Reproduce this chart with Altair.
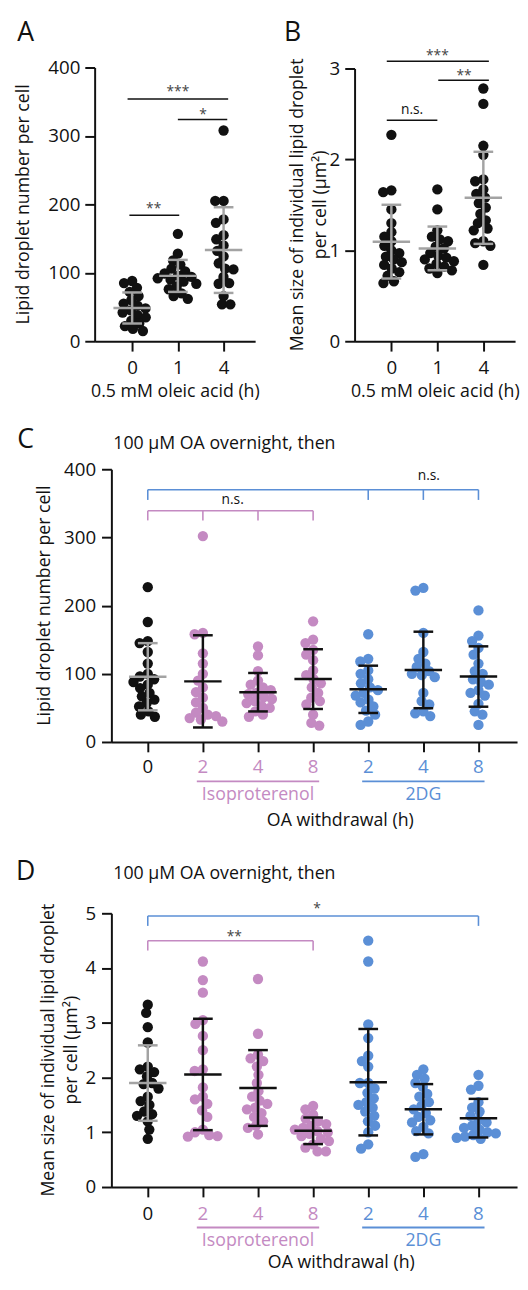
import math
import json
import numpy as np
import pandas as pd
import altair as alt

FONT = "Open Sans"
BLACK = "#111111"
GREY = "#a3a3a3"
PURPLE = "#c48ac2"
BLUE = "#5b8fd6"
SIGC = "#444444"

# ---------------- data ----------------
panel_letters = ["A", "B", "C", "D"]
subtitle = "100 \u03bcM OA overnight, then"
title_number = "Lipid droplet number per cell"
title_size = ["Mean size of individual lipid droplet", "per cell (\u03bcm\u00b2)"]
title_oleic = "0.5 mM oleic acid (h)"
title_withdrawal = "OA withdrawal (h)"

a_x_labels = ["0", "1", "4"]
a_h0 = [88, 85, 78, 72, 66, 60, 55, 52, 48, 45, 42, 38, 35, 30, 26, 22, 18, 15]
a_h1 = [157, 128, 118, 112, 106, 102, 99, 96, 94, 92, 90, 87, 84, 80, 76, 70, 66, 62]
a_h4 = [308, 205, 205, 178, 173, 155, 149, 140, 132, 124, 114, 106, 105, 94, 85, 84, 66, 54, 54]
a_sig_text = ["***", "*", "**"]
a_sig_x0 = [-0.1, 1.0, -0.06]
a_sig_x1 = [2.1, 2.08, 1.03]
a_sig_y = [354, 324, 184]
a_sig_tx = [1.0, 1.55, 0.47]
a_sig_ty = [371, 337, 199]

b_x_labels = ["0", "1", "4"]
b_h0 = [2.27, 1.66, 1.64, 1.45, 1.3, 1.2, 1.15, 1.1, 1.05, 1.0, 0.97, 0.93, 0.9, 0.87, 0.84, 0.8, 0.76, 0.72, 0.66, 0.64]
b_h1 = [1.67, 1.45, 1.22, 1.15, 1.12, 1.1, 1.04, 1.02, 0.97, 0.94, 0.92, 0.9, 0.88, 0.85, 0.82, 0.8, 0.78, 0.75]
b_h4 = [2.78, 2.61, 2.15, 2.05, 1.78, 1.76, 1.67, 1.62, 1.58, 1.52, 1.47, 1.4, 1.33, 1.3, 1.24, 1.22, 1.1, 1.08, 1.05, 0.84]
b_sig_text = ["***", "**", "n.s."]
b_sig_x0 = [-0.1, 1.02, -0.1]
b_sig_x1 = [2.12, 2.12, 1.0]
b_sig_y = [3.08, 2.87, 2.43]
b_sig_tx = [1.0, 1.58, 0.45]
b_sig_ty = [3.19, 2.97, 2.54]

cd_x_labels = ["0", "2", "4", "8", "2", "4", "8"]
cd_groups = ["ctrl", "iso", "iso", "iso", "dg", "dg", "dg"]
group_keys = ["iso", "dg"]
group_names = ["Isoproterenol", "2DG"]

c_0 = [227, 176, 148, 145, 132, 115, 100, 96, 92, 88, 84, 79, 72, 67, 62, 57, 52, 45, 40, 37]
c_iso2 = [302, 160, 158, 130, 115, 100, 90, 80, 73, 65, 58, 50, 43, 40, 38, 35, 33, 30]
c_iso4 = [140, 127, 104, 90, 84, 80, 76, 72, 70, 66, 63, 60, 57, 53, 50, 45, 40, 37]
c_iso8 = [177, 150, 145, 135, 128, 120, 105, 98, 92, 86, 80, 72, 65, 60, 55, 40, 28, 24]
c_dg2 = [158, 122, 118, 105, 100, 92, 86, 80, 76, 72, 68, 62, 58, 52, 46, 40, 30, 25]
c_dg4 = [226, 222, 160, 132, 122, 115, 110, 104, 100, 98, 95, 72, 60, 55, 45, 42, 38]
c_dg8 = [193, 156, 148, 138, 128, 115, 104, 100, 92, 88, 84, 76, 72, 68, 56, 45, 40, 25]
c_brk_grp = ["dg", "iso"]
c_brk_x0 = [0, 0]
c_brk_x1 = [6, 3]
c_brk_y = [370, 339]
c_brk_drop = [355, 325]
c_brk_ticks = [[0, 4, 5, 6], [0, 1, 2, 3]]
c_sig_text = ["n.s.", "n.s."]
c_sig_x = [5.1, 1.54]
c_sig_y = [390, 355]

d_0 = [3.33, 3.18, 2.92, 2.64, 2.2, 2.15, 2.1, 2.02, 1.9, 1.88, 1.8, 1.65, 1.57, 1.5, 1.38, 1.33, 1.3, 1.2, 1.05, 0.88]
d_iso2 = [4.12, 3.78, 3.55, 3.05, 2.98, 2.76, 2.5, 2.15, 2.12, 1.82, 1.65, 1.6, 1.52, 1.4, 1.28, 1.05, 1.0, 0.95, 0.93, 0.92]
d_iso4 = [3.8, 2.8, 2.42, 2.35, 2.3, 2.2, 2.05, 1.9, 1.75, 1.65, 1.58, 1.52, 1.45, 1.42, 1.35, 1.28, 1.2, 1.12, 1.08, 0.96]
d_iso8 = [1.48, 1.42, 1.32, 1.25, 1.2, 1.15, 1.12, 1.08, 1.05, 1.02, 1.0, 0.97, 0.93, 0.88, 0.84, 0.78, 0.72, 0.65, 0.65]
d_dg2 = [4.5, 4.12, 2.97, 2.72, 2.4, 2.3, 2.2, 1.9, 1.9, 1.8, 1.72, 1.62, 1.55, 1.5, 1.45, 1.38, 1.3, 1.2, 1.12, 1.0, 0.78, 0.7]
d_dg4 = [2.15, 2.05, 1.98, 1.9, 1.83, 1.7, 1.65, 1.55, 1.48, 1.42, 1.35, 1.28, 1.22, 1.18, 1.1, 1.02, 0.98, 0.6, 0.55]
d_dg8 = [2.05, 1.85, 1.78, 1.55, 1.45, 1.38, 1.3, 1.22, 1.18, 1.12, 1.08, 1.05, 1.0, 0.98, 0.95, 0.92, 0.9, 0.88]
d_brk_grp = ["dg", "iso"]
d_brk_x0 = [0, 0]
d_brk_x1 = [6, 3]
d_brk_y = [4.95, 4.50]
d_brk_drop = [4.77, 4.32]
d_brk_ticks = [[0, 6], [0, 3]]
d_sig_text = ["*", "**"]
d_sig_x = [3.07, 1.57]
d_sig_y = [5.16, 4.64]

# ---------------- layout constants (pixels, relative to panel A's plot origin) ----------------
VIEW_W, VIEW_H = 429, 1137
DOT = 110
DOT_D = 8.5
color_scale = alt.Scale(domain=["ctrl", "iso", "dg"], range=[BLACK, PURPLE, BLUE])


def swarm(vals, ypx, xpx, d=DOT_D):
    vals = np.asarray(vals, dtype=float)
    order = np.argsort(-vals, kind="stable")
    placed = []
    off = np.zeros(len(vals))
    for i in order:
        y = vals[i] * ypx
        cands = [0.0]
        for px, py in placed:
            dy = y - py
            if abs(dy) < d:
                dx = math.sqrt(d * d - dy * dy)
                cands.extend([px + dx, px - dx])
        cands.sort(key=lambda c: (round(abs(c), 6), c))
        chosen = 0.0
        for c in cands:
            if all((c - px) ** 2 + (y - py) ** 2 >= d * d - 1e-6 for px, py in placed):
                chosen = c
                break
        placed.append((chosen, y))
        off[i] = chosen / xpx
    return off


def text_at(t, px, py, size, align="center", baseline="middle", color=BLACK, angle=0):
    return alt.Chart(pd.DataFrame({"t": [t]})).mark_text(
        font=FONT, fontSize=size, align=align, baseline=baseline, color=color, angle=angle
    ).encode(text="t:N", x=alt.value(px), y=alt.value(py))


class Panel:
    def __init__(self, x0, y0, W, H, xdom, ydom, xaxis, yaxis):
        self.x0, self.y0, self.W, self.H = x0, y0, W, H
        self.xdom, self.ydom = xdom, ydom
        self.xs = alt.Scale(domain=xdom, range=[x0, x0 + W], nice=False, zero=False)
        self.ys = alt.Scale(domain=ydom, range=[y0 + H, y0], nice=False, zero=False)
        self.xaxis, self.yaxis = xaxis, yaxis
        self.layers = []

    def X(self, f):
        return alt.X(f"{f}:Q", scale=self.xs, axis=self.xaxis)

    def Y(self, f):
        return alt.Y(f"{f}:Q", scale=self.ys, axis=self.yaxis)

    def data_layers(self, groups, kinds):
        ypx = self.H / (self.ydom[1] - self.ydom[0])
        xpx = self.W / (self.xdom[1] - self.xdom[0])
        rows = []
        for i, (vals, k) in enumerate(zip(groups, kinds)):
            off = swarm(vals, ypx, xpx)
            for v, o in zip(vals, off):
                rows.append({"idx": i, "v": v, "xpos": i + float(o), "grp": k})
        df = pd.DataFrame(rows)
        X, Y = self.X, self.Y
        pts = alt.Chart(df).mark_circle(size=DOT, opacity=1).encode(
            x=X("xpos"), y=Y("v"),
            color=alt.Color("grp:N", scale=color_scale, legend=None))
        stats = alt.Chart(df).transform_aggregate(
            m="mean(v)", s="stdev(v)", groupby=["idx", "grp"]
        ).transform_calculate(lo="datum.m - datum.s", hi="datum.m + datum.s")
        bc = alt.condition("datum.grp == 'ctrl'", alt.value(GREY), alt.value(BLACK))
        vert = stats.mark_rule(strokeWidth=2.5).encode(
            x=X("idx"), y=Y("lo"), y2=alt.Y2("hi"), color=bc)
        caps = stats.transform_fold(["lo", "hi"], as_=["k", "e"]).mark_rule(
            strokeWidth=2.5, xOffset=-10, x2Offset=10
        ).encode(x=X("idx"), x2=alt.X2("idx"), y=Y("e"), color=bc)
        mean = stats.mark_rule(strokeWidth=2.5, xOffset=-19, x2Offset=19).encode(
            x=X("idx"), x2=alt.X2("idx"), y=Y("m"), color=bc)
        self.layers += [pts, vert, caps, mean]

    def sig(self, texts, tx, ty):
        df = pd.DataFrame({"t": texts, "x": tx, "y": ty})
        star = alt.Chart(df).transform_filter("datum.t != 'n.s.'").mark_text(
            font=FONT, fontSize=14, baseline="alphabetic", dy=8.4, color=SIGC
        ).encode(x=self.X("x"), y=self.Y("y"), text="t:N")
        ns = alt.Chart(df).transform_filter("datum.t == 'n.s.'").mark_text(
            font=FONT, fontSize=14, baseline="alphabetic", dy=3.8, color=BLACK
        ).encode(x=self.X("x"), y=self.Y("y"), text="t:N")
        self.layers += [star, ns]

    def lines(self, x0, x1, y):
        df = pd.DataFrame({"x0": x0, "x1": x1, "y": y})
        self.layers.append(alt.Chart(df).mark_rule(strokeWidth=1.5, color=BLACK).encode(
            x=self.X("x0"), x2=alt.X2("x1"), y=self.Y("y")))

    def brackets(self, grp, x0, x1, y, drop, ticks):
        hrows, vrows = [], []
        for g, a, b, yy, dd, tk in zip(grp, x0, x1, y, drop, ticks):
            hrows.append({"grp": g, "x0": a, "x1": b, "y": yy})
            for t in tk:
                vrows.append({"grp": g, "x": t, "y": yy, "y2": dd})
        col = alt.Color("grp:N", scale=color_scale, legend=None)
        h = alt.Chart(pd.DataFrame(hrows)).mark_rule(strokeWidth=1.6).encode(
            x=self.X("x0"), x2=alt.X2("x1"), y=self.Y("y"), color=col)
        v = alt.Chart(pd.DataFrame(vrows)).mark_rule(strokeWidth=1.6).encode(
            x=self.X("x"), y=self.Y("y"), y2=alt.Y2("y2"), color=col)
        self.layers += [h, v]

    def cd_xlabels(self, label_dy):
        col = alt.Color("grp:N", scale=color_scale, legend=None)
        base = self.y0 + self.H
        lab = pd.DataFrame({"idx": list(range(len(cd_x_labels))), "label": cd_x_labels, "grp": cd_groups})
        ticklabels = alt.Chart(lab).mark_text(font=FONT, fontSize=19, baseline="middle").encode(
            x=self.X("idx"), y=alt.value(base + label_dy + 1), text="label:N", color=col)
        grows = []
        for k, name in zip(group_keys, group_names):
            ids = [i for i, g in enumerate(cd_groups) if g == k]
            grows.append({"grp": k, "name": name, "c": float(np.mean(ids)),
                          "s": min(ids) - 0.11, "e": max(ids) + 0.11})
        gdf = pd.DataFrame(grows)
        under = alt.Chart(gdf).mark_rule(strokeWidth=2).encode(
            x=self.X("s"), x2=alt.X2("e"), y=alt.value(base + label_dy + 15), color=col)
        gtext = alt.Chart(gdf).mark_text(font=FONT, fontSize=18, baseline="middle").encode(
            x=self.X("c"), y=alt.value(base + label_dy + 29), text="name:N", color=col)
        self.layers += [ticklabels, under, gtext]

    def text(self, t, dx, dy, size, **kw):
        self.layers.append(text_at(t, self.x0 + dx, self.y0 + dy, size, **kw))

    def chart(self):
        return alt.layer(*self.layers)


def bottom_axis(x0, y_axis, **kw):
    return alt.Axis(orient="bottom", offset=y_axis - VIEW_H, grid=False, tickSize=10,
                    titleAlign="center", titleBaseline="middle", **kw)


def left_axis(x_axis, **kw):
    return alt.Axis(orient="left", offset=-x_axis, grid=False, tickSize=10,
                    titleAngle=-90, titleAlign="center", titleBaseline="middle", **kw)


# ---------------- Panel A ----------------
A = Panel(0, 0, 163, 278, [-0.82, 2.69], [0, 400],
          bottom_axis(0, 278, values=[0, 1, 2],
                      labelExpr=f"{json.dumps(a_x_labels)}[datum.value]", labelPadding=8,
                      title=title_oleic, titleX=81.5, titleY=51),
          left_axis(0, values=[0, 100, 200, 300, 400], labelPadding=5, title=None))
A.data_layers([a_h0, a_h1, a_h4], ["ctrl"] * 3)
A.lines(a_sig_x0, a_sig_x1, a_sig_y)
A.sig(a_sig_text, a_sig_tx, a_sig_ty)
A.text(panel_letters[0], -70, -35, 27)
A.text(title_number, -72, 139, 18, angle=270)

# ---------------- Panel B ----------------
B = Panel(264, 1, 163, 277, [-0.8, 2.69], [0, 3],
          bottom_axis(264, 278, values=[0, 1, 2],
                      labelExpr=f"{json.dumps(b_x_labels)}[datum.value]", labelPadding=8,
                      title=title_oleic, titleX=264 + 81.5, titleY=51),
          left_axis(264, values=[0, 1, 2, 3], labelPadding=5, title=None))
B.data_layers([b_h0, b_h1, b_h4], ["ctrl"] * 3)
B.lines(b_sig_x0, b_sig_x1, b_sig_y)
B.sig(b_sig_text, b_sig_tx, b_sig_ty)
B.text(panel_letters[1], -63, -36, 27)
B.text(title_size[0], -57, 138.5, 18, angle=270)
B.text(title_size[1], -34, 138.5, 18, angle=270)

# ---------------- Panel C ----------------
C = Panel(17, 408, 412, 277, [-0.66, 6.7], [0, 400],
          bottom_axis(17, 685, values=list(range(7)), labels=False,
                      title=title_withdrawal, titleX=17 + 232, titleY=80),
          left_axis(17, values=[0, 100, 200, 300, 400], labelPadding=6, title=None))
C.data_layers([c_0, c_iso2, c_iso4, c_iso8, c_dg2, c_dg4, c_dg8], cd_groups)
C.brackets(c_brk_grp, c_brk_x0, c_brk_x1, c_brk_y, c_brk_drop, c_brk_ticks)
C.sig(c_sig_text, c_sig_x, c_sig_y)
C.cd_xlabels(25)
C.text(panel_letters[2], -87, -30, 27)
C.text(subtitle, 2, -26, 18, align="left")
C.text(title_number, -67, 138.5, 18, angle=270)

# ---------------- Panel D ----------------
D = Panel(17, 859, 412, 278, [-0.66, 6.7], [0, 5],
          bottom_axis(17, 1137, values=list(range(7)), labels=False,
                      title=title_withdrawal, titleX=17 + 233, titleY=77),
          left_axis(17, values=[0, 1, 2, 3, 4, 5], labelPadding=6, title=None))
D.data_layers([d_0, d_iso2, d_iso4, d_iso8, d_dg2, d_dg4, d_dg8], cd_groups)
D.brackets(d_brk_grp, d_brk_x0, d_brk_x1, d_brk_y, d_brk_drop, d_brk_ticks)
D.sig(d_sig_text, d_sig_x, d_sig_y)
D.cd_xlabels(26)
D.text(panel_letters[3], -87, -42, 27)
D.text(subtitle, 2, -40, 18, align="left")
D.text(title_size[0], -63, 139, 18, angle=270)
D.text(title_size[1], -40, 139, 18, angle=270)

# ---------------- assemble ----------------
chart = alt.layer(A.chart(), B.chart(), C.chart(), D.chart()).resolve_scale(
    x="independent", y="independent"
).properties(
    width=VIEW_W, height=VIEW_H,
    padding={"left": 7, "top": 1.5, "right": 0, "bottom": 0}
).configure_view(stroke=None).configure_axis(
    domainColor=BLACK, domainWidth=2, tickColor=BLACK, tickWidth=2,
    labelFont=FONT, labelFontSize=19, labelColor=BLACK,
    titleFont=FONT, titleFontSize=18, titleFontWeight="normal", titleColor=BLACK,
    grid=False
)

chart.save("out.html", embed_options={"renderer": "svg", "actions": False})
